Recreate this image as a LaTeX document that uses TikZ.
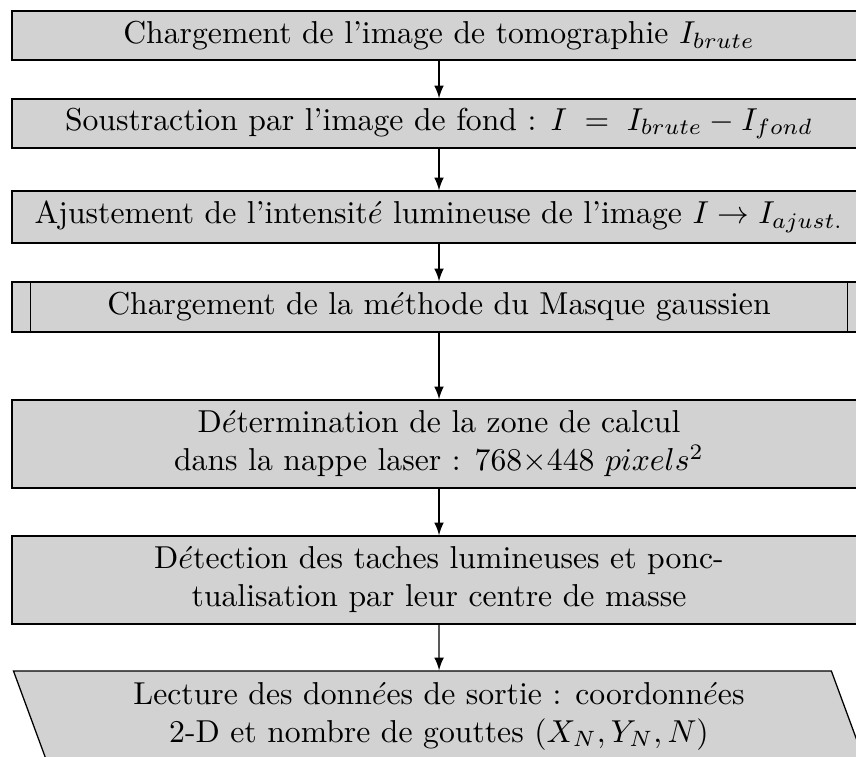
\documentclass[tikz,border=0pt]{standalone}
\usetikzlibrary{shapes.geometric,arrows}
\tikzset{
  etape/.style={rectangle,draw,fill=gray!35,minimum width=269.4pt,inner sep=0pt,align=center},
  sortie/.style={trapezium,trapezium left angle=116,trapezium right angle=64,trapezium stretches body,
    draw,fill=gray!35,minimum width=268.5pt,minimum height=28.4pt,inner sep=0pt,align=center},
  fleche/.style={-latex}
}
\begin{document}
\begin{tikzpicture}[x=0.3155pt,y=-0.3155pt]
        \useasboundingbox (0,0) rectangle (856,756);
        \node[etape,minimum height=15.5pt] (charg) at (439,35.5) {Chargement de l'image de tomographie $I_{brute}$};
        \node[etape,minimum height=15.5pt] (soustr) at (439,123.5) {Soustraction par l'image de fond : $I\;=\;I_{brute}-I_{fond}$};
        \node[etape,minimum height=16.4pt] (ajust) at (439,217) {Ajustement de l'intensit$\acute{e}$ lumineuse de l'image $I\rightarrow I_{ajust.}$};
        \node[etape,minimum height=15.8pt] (masque) at (439,307) {Chargement de la m$\acute{e}$thode du Masque gaussien};
        \draw ([xshift=6pt]masque.north west) -- ([xshift=6pt]masque.south west);
        \draw ([xshift=-6pt]masque.north east) -- ([xshift=-6pt]masque.south east);
        \node[etape,minimum height=27.8pt] (zone) at (439,444) {D$\acute{e}$termination de la zone de calcul\\dans la nappe laser : 768$\times$448 $pixels^2$};
        \node[etape,minimum height=27.8pt] (detect) at (439,580) {D$\acute{e}$tection des taches lumineuses et ponc-\\tualisation par leur centre de masse};
        \node[sortie] (lecture) at (439,716) {Lecture des donn$\acute{e}$es de sortie : coordonn$\acute{e}$es\\2-D et nombre de gouttes $(X_N,Y_N,N)$};
        \draw[fleche] (charg) -- (soustr);
        \draw[fleche] (soustr) -- (ajust);
        \draw[fleche] (ajust) -- (masque);
        \draw[fleche] (masque) -- (zone);
        \draw[fleche] (zone) -- (detect);
        \draw[fleche] (detect) -- (lecture);
\end{tikzpicture}
\end{document}
